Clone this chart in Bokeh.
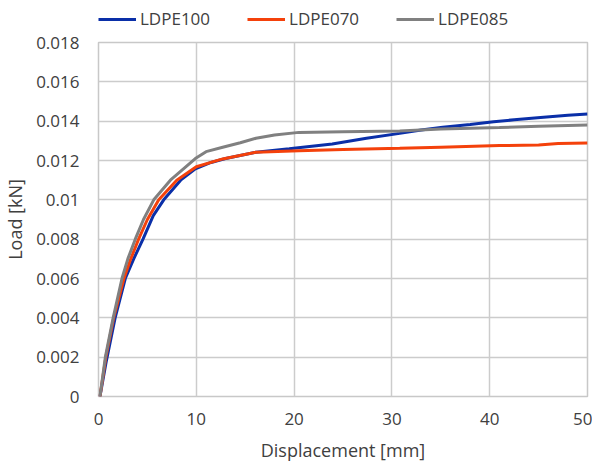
from bokeh.plotting import figure
from bokeh.layouts import column
from bokeh.models import Legend, LegendItem, FixedTicker, CustomJSTickFormatter, Range1d
from bokeh.embed import file_html
from bokeh.resources import INLINE

# LDPE100 (blue)
x_100 = [0.15, 0.8, 1.7, 2.74, 3.6, 4.55, 5.6, 6.67, 8.4, 9.9, 11.5, 13.0, 16.1, 19.5, 23.9, 27.4, 30.8, 33.0, 35.2, 38.0, 40.4, 42.5, 45.2, 48.0, 50.0]
y_100 = [0.0, 0.0018, 0.004, 0.006, 0.007, 0.008, 0.0092, 0.010, 0.011, 0.01158, 0.0119, 0.0121, 0.01242, 0.0126, 0.01284, 0.01313, 0.01338, 0.01355, 0.01369, 0.01383, 0.01397, 0.01407, 0.01419, 0.0143, 0.01436]

# LDPE070 (orange)
x_070 = [0.15, 0.75, 1.55, 2.6, 3.3, 4.1, 5.0, 6.16, 8.0, 10.0, 12.7, 16.1, 20.5, 25.0, 30.8, 35.0, 41.0, 45.0, 47.0, 50.0]
y_070 = [0.0, 0.002, 0.004, 0.006, 0.007, 0.008, 0.009, 0.010, 0.011, 0.01168, 0.01208, 0.01242, 0.0125, 0.01256, 0.01262, 0.01268, 0.01276, 0.01279, 0.01286, 0.01289]

# LDPE085 (gray)
x_085 = [0.15, 0.7, 1.5, 2.4, 3.0, 3.76, 4.6, 5.65, 7.35, 9.9, 11.0, 12.7, 14.5, 16.1, 18.0, 20.5, 25.0, 30.8, 35.0, 41.0, 45.0, 50.0]
y_085 = [0.0, 0.002, 0.004, 0.006, 0.007, 0.008, 0.009, 0.010, 0.011, 0.0121, 0.01245, 0.01267, 0.0129, 0.01313, 0.0133, 0.01343, 0.01346, 0.0135, 0.0136, 0.01368, 0.01374, 0.0138]

series_names = ["LDPE100", "LDPE070", "LDPE085"]
series_colors = ["#0A2FA8", "#F4410B", "#808080"]
series_x = [x_100, x_070, x_085]
series_y = [y_100, y_070, y_085]
x_ticks = [0, 10, 20, 30, 40, 50]
y_ticks = [0, 0.002, 0.004, 0.006, 0.008, 0.01, 0.012, 0.014, 0.016, 0.018]

FONT = "Open Sans"
TXT = "#404040"

p = figure(width=592, height=434, output_backend="svg", toolbar_location=None,
           x_range=Range1d(0, 50), y_range=Range1d(0, 0.018),
           min_border_left=92, min_border_right=5, min_border_top=12, min_border_bottom=67)

p.outline_line_color = "#C8C8C8"
p.outline_line_width = 1.5
p.background_fill_color = "white"
p.border_fill_color = "white"

for ax in (p.xaxis[0], p.yaxis[0]):
    ax.axis_line_color = None
    ax.major_tick_line_color = None
    ax.minor_tick_line_color = None
    ax.major_tick_out = 0
    ax.major_tick_in = 0
    ax.major_label_text_font = FONT
    ax.major_label_text_font_size = "17px"
    ax.major_label_text_color = TXT
    ax.axis_label_text_font = FONT
    ax.axis_label_text_font_size = "18px"
    ax.axis_label_text_font_style = "normal"
    ax.axis_label_text_color = TXT

p.xaxis.ticker = FixedTicker(ticks=x_ticks)
p.yaxis.ticker = FixedTicker(ticks=y_ticks)
p.yaxis.formatter = CustomJSTickFormatter(code="return parseFloat(tick.toFixed(4)).toString();")
p.xaxis.axis_label = "Displacement [mm]"
p.yaxis.axis_label = "Load [kN]"
p.xaxis.major_label_standoff = 16
p.yaxis.major_label_standoff = 19
p.xaxis.axis_label_standoff = 10
p.yaxis.axis_label_standoff = 6

p.xgrid.grid_line_color = "#CCCCCC"
p.ygrid.grid_line_color = "#CCCCCC"
p.xgrid.grid_line_width = 1.5
p.ygrid.grid_line_width = 1.5

for xs, ys, col in zip(series_x, series_y, series_colors):
    p.line(xs, ys, line_color=col, line_width=3)

# legend strip above the plot (its lines lie outside the strip's visible range)
lg = figure(width=592, height=30, output_backend="svg", toolbar_location=None,
            x_range=Range1d(0, 1), y_range=Range1d(1, 2),
            x_axis_type=None, y_axis_type=None,
            min_border_left=0, min_border_right=0, min_border_top=0, min_border_bottom=0)
lg.outline_line_color = None
lg.xgrid.visible = False
lg.ygrid.visible = False
items = []
for name, col, xs, ys in zip(series_names, series_colors, series_x, series_y):
    r = lg.line(xs, ys, line_color=col, line_width=3)
    items.append(LegendItem(label=name, renderers=[r]))
legend = Legend(items=items, orientation="horizontal", location=(0, 0))
legend.label_text_font = FONT
legend.label_text_font_size = "17px"
legend.label_text_color = TXT
legend.glyph_width = 38
legend.glyph_height = 20
legend.label_height = 20
legend.label_standoff = 4
legend.spacing = 37
legend.border_line_color = None
legend.background_fill_alpha = 0
legend.padding = 0
legend.margin = 0
lg.add_layout(legend, "center")

layout = column(lg, p, spacing=0)
open("out.html", "w").write(file_html(layout, INLINE))
